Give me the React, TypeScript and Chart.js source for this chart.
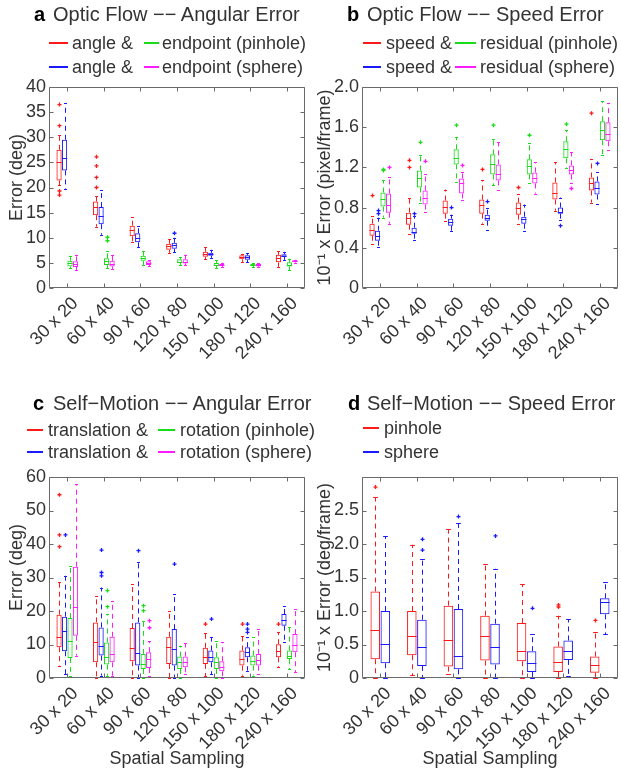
import React, { useEffect, useRef } from 'react';
import { Chart, registerables } from 'chart.js';

Chart.register(...registerables);

const FONT = "'Liberation Sans', Arial, Helvetica, sans-serif";
const TEXT = '#333333';
const FRAME = '#6a6a6a';
const RED = '#ff1a1a';
const BLUE = '#1a1aff';
const GREEN = '#18dd18';
const MAGENTA = '#ff1aff';

const categories = ['30 x 20', '60 x 40', '90 x 60', '120 x 80', '150 x 100', '180 x 120', '240 x 160'];

// Each box row: [lower whisker, q1, median, q3, upper whisker]
// ---- Panel a: Optic Flow -- Angular Error (deg)
const aAnglePinBox = [[20.5, 21.4, 25.0, 27.5, 30.5], [12.2, 14.5, 16.1, 17.2, 18.4], [9.1, 10.3, 11.6, 12.4, 14.1], [7.0, 7.6, 8.3, 8.8, 9.7], [5.7, 6.2, 6.7, 7.2, 8.1], [5.2, 5.7, 6.1, 6.5, 6.8], [4.2, 5.1, 5.9, 6.6, 7.3]];
const aAnglePinOut = [[36.5, 32.3, 19.3, 18.5], [26.1, 24.3, 22.0, 20.0], [], [], [], [], []];
const aAngleSphBox = [[19.7, 23.4, 25.9, 29.5, 36.8], [10.6, 12.7, 14.3, 16.1, 19.5], [8.1, 9.1, 10.0, 10.9, 12.4], [7.1, 7.8, 8.5, 9.0, 10.0], [6.0, 6.4, 6.7, 7.0, 7.6], [5.1, 5.6, 6.1, 6.5, 6.9], [5.6, 6.2, 6.4, 6.7, 7.2]];
const aAngleSphOut = [[], [], [], [10.9], [], [], []];
const aEndPinBox = [[3.9, 4.3, 4.9, 5.4, 6.4], [4.0, 4.6, 5.3, 5.9, 7.4], [4.6, 5.4, 5.9, 6.4, 7.3], [4.5, 5.0, 5.2, 5.7, 6.2], [4.0, 4.4, 4.6, 5.0, 5.5], [4.1, 4.4, 4.6, 4.8, 5.0], [3.6, 4.3, 4.6, 5.1, 5.8]];
const aEndPinOut = [[], [10.1, 9.4], [], [], [], [], []];
const aEndSphBox = [[3.6, 4.2, 4.7, 5.3, 6.6], [3.8, 4.3, 4.8, 5.4, 6.6], [4.3, 4.6, 4.9, 5.3, 5.5], [4.5, 4.9, 5.2, 5.7, 6.6], [4.2, 4.4, 4.6, 4.8, 5.0], [4.1, 4.3, 4.6, 4.8, 4.9], [5.0, 5.1, 5.3, 5.5, 5.6]];
const aEndSphOut = [[], [], [], [], [], [], []];

// ---- Panel b: Optic Flow -- Speed Error (10^-1 pixel/frame)
const bSpeedPinBox = [[0.44, 0.52, 0.58, 0.64, 0.72], [0.54, 0.63, 0.70, 0.75, 0.90], [0.67, 0.74, 0.81, 0.87, 0.98], [0.64, 0.74, 0.83, 0.88, 1.07], [0.64, 0.73, 0.80, 0.85, 0.94], [0.77, 0.88, 0.95, 1.05, 1.25], [0.85, 0.97, 1.04, 1.10, 1.28]];
const bSpeedPinOut = [[0.92], [1.27, 1.20], [], [1.18], [1.00], [], [1.74]];
const bSpeedSphBox = [[0.41, 0.47, 0.52, 0.57, 0.70], [0.48, 0.54, 0.56, 0.60, 0.72], [0.57, 0.62, 0.66, 0.69, 0.73], [0.58, 0.67, 0.70, 0.73, 0.80], [0.57, 0.64, 0.69, 0.71, 0.83], [0.68, 0.74, 0.76, 0.80, 0.90], [0.84, 0.93, 1.00, 1.06, 1.15]];
const bSpeedSphOut = [[0.77, 0.74], [0.74], [0.80], [0.86], [], [0.62], [1.24]];
const bResPinBox = [[0.70, 0.81, 0.89, 0.95, 1.07], [0.85, 1.00, 1.09, 1.17, 1.32], [1.05, 1.23, 1.29, 1.38, 1.50], [1.02, 1.13, 1.23, 1.33, 1.48], [1.04, 1.13, 1.21, 1.28, 1.44], [1.19, 1.29, 1.38, 1.46, 1.57], [1.32, 1.47, 1.57, 1.66, 1.86]];
const bResPinOut = [[1.18, 1.17], [1.45], [1.62], [1.62], [1.52], [1.63], []];
const bResSphBox = [[0.64, 0.75, 0.83, 0.94, 1.10], [0.76, 0.83, 0.90, 0.97, 1.13], [0.88, 0.94, 1.04, 1.09, 1.15], [0.98, 1.07, 1.13, 1.23, 1.45], [0.94, 1.04, 1.09, 1.15, 1.25], [1.04, 1.13, 1.17, 1.22, 1.35], [1.37, 1.46, 1.53, 1.65, 1.84]];
const bResSphOut = [[1.20], [1.26], [1.22], [], [], [0.99], []];

// ---- Panel c: Self-Motion -- Angular Error (deg)
const cTransPinBox = [[3.7, 9.2, 12.3, 18.9, 28.6], [0, 4.7, 10.6, 16.6, 24.6], [0, 5.0, 9.0, 14.9, 28.1], [0, 4.2, 9.2, 12.3, 20.1], [0.5, 4.2, 6.4, 9.0, 13.5], [0.7, 3.7, 5.7, 8.2, 12.6], [3.2, 6.2, 8.2, 10.1, 13.6]];
const cTransPinOut = [[54.7, 42.7, 39.2], [], [], [], [16.1], [16.1], [16.1]];
const cTransSphBox = [[1.2, 8.0, 14.1, 18.3, 30.5], [0.7, 6.7, 9.7, 15.1, 27.0], [0, 3.7, 7.5, 16.6, 34.5], [0, 3.7, 8.7, 14.6, 25.1], [1.2, 4.7, 6.4, 8.2, 12.1], [2.2, 6.2, 7.7, 9.2, 12.1], [10.6, 15.6, 17.3, 19.1, 21.6]];
const cTransSphOut = [[42.7], [38.2, 31.5, 30.5], [38.0], [34.0], [17.6], [16.1, 14.6, 13.6], []];
const cRotPinBox = [[0.7, 6.0, 11.1, 17.9, 33.5], [0.7, 4.0, 6.4, 10.6, 19.1], [0, 2.7, 4.2, 7.2, 17.0], [0, 2.7, 4.7, 6.4, 9.7], [0, 2.7, 4.7, 6.2, 11.1], [0.7, 3.7, 5.2, 6.7, 12.1], [2.7, 5.7, 6.7, 8.2, 15.1]];
const cRotPinOut = [[], [26.1, 21.3], [21.6, 20.1], [], [], [], []];
const cRotSphBox = [[6.7, 12.6, 21.1, 33.2, 57.9], [0.7, 4.7, 7.2, 12.3, 23.1], [0.7, 3.0, 5.7, 7.7, 11.0], [1.2, 3.2, 4.7, 6.4, 10.3], [0, 2.0, 3.4, 5.0, 10.6], [1.2, 3.7, 5.4, 7.2, 14.6], [1.7, 7.7, 10.0, 13.1, 20.6]];
const cRotSphOut = [[], [], [17.1, 15.0], [], [], [], []];

// ---- Panel d: Self-Motion -- Speed Error (10^-1 deg/frame)
const dPinBox = [[0, 0.28, 0.72, 1.29, 2.70], [0.04, 0.34, 0.62, 1.00, 1.99], [0.06, 0.17, 0.57, 1.08, 2.22], [0, 0.26, 0.62, 0.93, 1.70], [0, 0.25, 0.41, 0.82, 1.40], [0, 0.09, 0.24, 0.47, 0.93], [0, 0.08, 0.20, 0.32, 0.68]];
const dPinOut = [[2.85], [], [], [], [], [1.09, 1.06], [0.86]];
const dSphBox = [[0, 0.22, 0.51, 1.00, 2.12], [0, 0.18, 0.46, 0.87, 1.78], [0, 0.13, 0.33, 1.03, 2.32], [0, 0.20, 0.47, 0.81, 1.63], [0, 0.09, 0.22, 0.40, 0.66], [0.03, 0.27, 0.41, 0.56, 0.88], [0.65, 0.95, 1.13, 1.19, 1.44]];
const dSphOut = [[], [2.07, 1.91], [2.41], [2.12], [1.04], [], []];

type Series = { label: string; color: string; box: number[][]; out: number[][] };

const boxPlugin = {
  id: 'boxWhiskers',
  afterDatasetsDraw(chart: any) {
    const ctx = chart.ctx;
    const y = chart.scales.y;
    chart.data.datasets.forEach((ds: any, di: number) => {
      const meta = chart.getDatasetMeta(di);
      meta.data.forEach((el: any, i: number) => {
        const s = ds.stats[i];
        if (!s) return;
        const o = ds.outliers[i] || [];
        const cx = Math.round(el.x) + 0.5;
        const w = el.width;
        ctx.save();
        ctx.strokeStyle = ds.borderColor;
        ctx.lineWidth = 1;
        const ym = Math.round(y.getPixelForValue(s[2])) + 0.5;
        ctx.beginPath();
        ctx.moveTo(el.x - w / 2, ym);
        ctx.lineTo(el.x + w / 2, ym);
        ctx.stroke();
        ctx.setLineDash([5, 4]);
        ctx.beginPath();
        ctx.moveTo(cx, y.getPixelForValue(s[3]));
        ctx.lineTo(cx, y.getPixelForValue(s[4]));
        ctx.moveTo(cx, y.getPixelForValue(s[1]));
        ctx.lineTo(cx, y.getPixelForValue(s[0]));
        ctx.stroke();
        ctx.setLineDash([]);
        const cw = Math.max(1.5, w * 0.25);
        [s[0], s[4]].forEach((v: number) => {
          const py = Math.round(y.getPixelForValue(v)) + 0.5;
          ctx.beginPath();
          ctx.moveTo(cx - cw, py);
          ctx.lineTo(cx + cw, py);
          ctx.stroke();
        });
        ctx.lineWidth = 1.3;
        o.forEach((v: number) => {
          const py = y.getPixelForValue(v);
          ctx.beginPath();
          ctx.moveTo(cx - 2, py);
          ctx.lineTo(cx + 2, py);
          ctx.moveTo(cx, py - 2);
          ctx.lineTo(cx, py + 2);
          ctx.stroke();
        });
        ctx.restore();
      });
    });
  },
};

const framePlugin = {
  id: 'matlabFrame',
  afterDraw(chart: any) {
    const ctx = chart.ctx;
    const { left, right, top, bottom } = chart.chartArea;
    const x = chart.scales.x;
    const y = chart.scales.y;
    const L = Math.round(left) + 0.5;
    const R = Math.round(right) - 0.5;
    const T = Math.round(top) + 0.5;
    const B = Math.round(bottom) - 0.5;
    ctx.save();
    ctx.strokeStyle = FRAME;
    ctx.lineWidth = 1;
    ctx.beginPath();
    ctx.rect(L, T, R - L, B - T);
    y.ticks.forEach((t: any) => {
      const py = Math.round(y.getPixelForValue(t.value)) + 0.5;
      ctx.moveTo(L, py);
      ctx.lineTo(L + 4, py);
      ctx.moveTo(R, py);
      ctx.lineTo(R - 4, py);
    });
    chart.data.labels.forEach((_: any, i: number) => {
      const px = Math.round(x.getPixelForValue(i)) + 0.5;
      ctx.moveTo(px, T);
      ctx.lineTo(px, T + 4);
      ctx.moveTo(px, B);
      ctx.lineTo(px, B - 4);
    });
    ctx.stroke();
    ctx.restore();
  },
};

type PanelProps = {
  left: number; top: number; width: number; height: number;
  plotLeft: number; plotRight: number; plotTop: number; plotBottom: number;
  series: Series[]; yMax: number; yStep: number; yFmt: (v: number) => string;
  yTitle: string; yTitlePad: number; xTitle?: string; catPct: number; barPct: number;
};

function Panel(p: PanelProps) {
  const ref = useRef<HTMLCanvasElement>(null);
  useEffect(() => {
    if (!ref.current) return;
    const yAxisW = p.plotLeft - p.left;
    const xAxisH = p.top + p.height - p.plotBottom;
    const chart = new Chart(ref.current, {
      type: 'bar',
      data: {
        labels: categories,
        datasets: p.series.map((s) => ({
          label: s.label,
          data: s.box.map((b) => [b[1], b[3]]),
          stats: s.box,
          outliers: s.out,
          backgroundColor: 'rgba(0,0,0,0)',
          borderColor: s.color,
          borderWidth: 1,
          borderSkipped: false,
          categoryPercentage: p.catPct,
          barPercentage: p.barPct,
        })) as any,
      },
      options: {
        animation: false,
        responsive: false,
        maintainAspectRatio: false,
        layout: { padding: { left: 0, top: p.plotTop - p.top, right: p.left + p.width - p.plotRight, bottom: 0 } },
        plugins: { legend: { display: false }, title: { display: false }, tooltip: { enabled: false } },
        scales: {
          x: {
            type: 'category',
            grid: { display: false, drawTicks: false },
            border: { display: false },
            ticks: { autoSkip: false, minRotation: 45, maxRotation: 45, color: TEXT, font: { family: FONT, size: 18 }, padding: 5, labelOffset: 8 },
            title: p.xTitle
              ? { display: true, text: p.xTitle, color: TEXT, font: { family: FONT, size: 18 }, padding: { top: 0, bottom: 6 } }
              : { display: false },
            afterFit: (s: any) => { s.height = xAxisH; },
          },
          y: {
            min: 0,
            max: p.yMax,
            grid: { display: false, drawTicks: false },
            border: { display: false },
            ticks: { stepSize: p.yStep, color: TEXT, font: { family: FONT, size: 18 }, padding: 3, callback: (v: any) => p.yFmt(Number(v)) },
            title: { display: true, text: p.yTitle, color: TEXT, font: { family: FONT, size: 18 }, padding: { top: p.yTitlePad, bottom: 0 } },
            afterFit: (s: any) => { s.width = yAxisW; },
          },
        },
      } as any,
      plugins: [boxPlugin, framePlugin],
    });
    return () => chart.destroy();
  }, []);
  return (
    <canvas
      ref={ref}
      width={p.width}
      height={p.height}
      style={{ position: 'absolute', left: p.left, top: p.top, width: p.width, height: p.height, display: 'block' }}
    />
  );
}

const txt = (x: number, baseline: number, size: number, text: string, bold = false, color = TEXT) => (
  <div
    key={`${x}-${baseline}-${text}`}
    style={{
      position: 'absolute', left: x, top: baseline - 0.8465 * size, fontFamily: FONT, fontSize: size,
      lineHeight: '1', whiteSpace: 'nowrap', fontWeight: bold ? 'bold' : 'normal', color,
    }}
  >
    {text}
  </div>
);

const line = (x1: number, x2: number, y: number, color: string) => (
  <div key={`l-${x1}-${y}`} style={{ position: 'absolute', left: x1, top: y - 1, width: x2 - x1, height: 2, background: color }} />
);

const seriesA: Series[] = [
  { label: 'angle & (pinhole)', color: RED, box: aAnglePinBox, out: aAnglePinOut },
  { label: 'angle & (sphere)', color: BLUE, box: aAngleSphBox, out: aAngleSphOut },
  { label: 'endpoint (pinhole)', color: GREEN, box: aEndPinBox, out: aEndPinOut },
  { label: 'endpoint (sphere)', color: MAGENTA, box: aEndSphBox, out: aEndSphOut },
];
const seriesB: Series[] = [
  { label: 'speed & (pinhole)', color: RED, box: bSpeedPinBox, out: bSpeedPinOut },
  { label: 'speed & (sphere)', color: BLUE, box: bSpeedSphBox, out: bSpeedSphOut },
  { label: 'residual (pinhole)', color: GREEN, box: bResPinBox, out: bResPinOut },
  { label: 'residual (sphere)', color: MAGENTA, box: bResSphBox, out: bResSphOut },
];
const seriesC: Series[] = [
  { label: 'translation & (pinhole)', color: RED, box: cTransPinBox, out: cTransPinOut },
  { label: 'translation & (sphere)', color: BLUE, box: cTransSphBox, out: cTransSphOut },
  { label: 'rotation (pinhole)', color: GREEN, box: cRotPinBox, out: cRotPinOut },
  { label: 'rotation (sphere)', color: MAGENTA, box: cRotSphBox, out: cRotSphOut },
];
const seriesD: Series[] = [
  { label: 'pinhole', color: RED, box: dPinBox, out: dPinOut },
  { label: 'sphere', color: BLUE, box: dSphBox, out: dSphOut },
];

const fmtInt = (v: number) => String(Math.round(v));
const fmt1 = (v: number) => (v === 0 ? '0' : v.toFixed(1));
const fmtD = (v: number) => (v === 0 ? '0' : v >= 2.99 ? '' : v.toFixed(1));

export default function App() {
  return (
    <div style={{ position: 'absolute', left: 0, top: 0, width: 621, height: 776, background: '#fff', overflow: 'hidden' }}>
      <Panel left={0} top={0} width={310} height={388} plotLeft={49} plotRight={305} plotTop={87} plotBottom={288}
        series={seriesA} yMax={40} yStep={5} yFmt={fmtInt} yTitle={'    Error (deg)'} yTitlePad={6} catPct={0.6} barPct={0.95} />
      <Panel left={310} top={0} width={311} height={388} plotLeft={362} plotRight={618} plotTop={87} plotBottom={288}
        series={seriesB} yMax={2} yStep={0.4} yFmt={fmt1} yTitle={'10⁻¹ x Error (pixel/frame)'} yTitlePad={4} catPct={0.6} barPct={0.95} />
      <Panel left={0} top={388} width={310} height={388} plotLeft={49} plotRight={305} plotTop={477} plotBottom={678}
        series={seriesC} yMax={60} yStep={10} yFmt={fmtInt} yTitle={'    Error (deg)'} yTitlePad={6} xTitle="Spatial Sampling" catPct={0.6} barPct={0.95} />
      <Panel left={310} top={388} width={311} height={388} plotLeft={362} plotRight={618} plotTop={477} plotBottom={678}
        series={seriesD} yMax={3} yStep={0.5} yFmt={fmtD} yTitle={'10⁻¹ x Error (deg/frame)'} yTitlePad={4} xTitle="Spatial Sampling" catPct={0.55} barPct={0.95} />

      {txt(34, 21, 20, 'a', true, '#000')}
      {txt(53, 21, 20, 'Optic Flow −− Angular Error')}
      {line(49, 68, 43, RED)}
      {txt(72, 49, 18, 'angle &')}
      {line(144, 159, 43, GREEN)}
      {txt(162, 49, 18, 'endpoint (pinhole)')}
      {line(49, 68, 67, BLUE)}
      {txt(72, 73, 18, 'angle &')}
      {line(144, 159, 67, MAGENTA)}
      {txt(162, 73, 18, 'endpoint (sphere)')}

      {txt(347, 21, 20, 'b', true, '#000')}
      {txt(367, 21, 20, 'Optic Flow −− Speed Error')}
      {line(363, 381, 43, RED)}
      {txt(386, 49, 18, 'speed &')}
      {line(455, 476, 43, GREEN)}
      {txt(480, 49, 18, 'residual (pinhole)')}
      {line(363, 381, 67, BLUE)}
      {txt(386, 73, 18, 'speed &')}
      {line(455, 476, 67, MAGENTA)}
      {txt(480, 73, 18, 'residual (sphere)')}

      {txt(33, 410, 20, 'c', true, '#000')}
      {txt(53, 410, 20, 'Self−Motion −− Angular Error')}
      {line(27, 43, 430, RED)}
      {txt(48, 436, 18, 'translation &')}
      {line(158, 175, 430, GREEN)}
      {txt(180, 436, 18, 'rotation (pinhole)')}
      {line(27, 43, 452, BLUE)}
      {txt(48, 458, 18, 'translation &')}
      {line(158, 175, 452, MAGENTA)}
      {txt(180, 458, 18, 'rotation (sphere)')}

      {txt(348, 410, 20, 'd', true, '#000')}
      {txt(367, 410, 20, 'Self−Motion −− Speed Error')}
      {line(363, 379, 428, RED)}
      {txt(384, 434, 18, 'pinhole')}
      {line(363, 379, 452, BLUE)}
      {txt(384, 458, 18, 'sphere')}
    </div>
  );
}
